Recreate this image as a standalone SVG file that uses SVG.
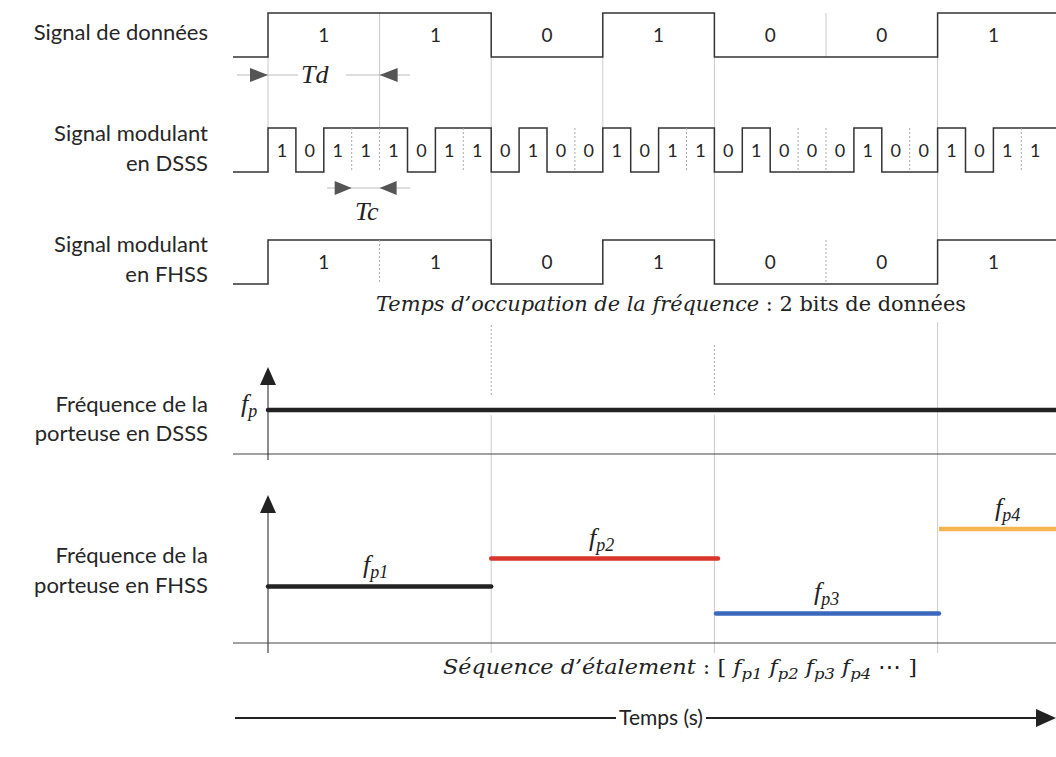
<svg xmlns="http://www.w3.org/2000/svg" width="1056" height="757" viewBox="0 0 1056 757">
<defs>
<style>
.lbl{font-family:Lato,"Open Sans","DejaVu Sans",sans-serif;font-size:22px;fill:#262626;text-anchor:end}
.dig{font-family:Lato,"Open Sans","DejaVu Sans",sans-serif;font-size:19px;fill:#262626;text-anchor:middle}
.chip{font-family:Lato,"Open Sans","DejaVu Sans",sans-serif;font-size:18px;fill:#262626;text-anchor:middle}
.sig{fill:none;stroke:#333;stroke-width:1.5}
.guide{stroke:#cacaca;stroke-width:1;fill:none}
.dot{stroke:#aaa;stroke-width:1;stroke-dasharray:2 2;fill:none}
.ser{font-family:"Liberation Serif","DejaVu Serif",serif;fill:#222}
.dv{font-family:"DejaVu Serif","Liberation Serif",serif;fill:#222}
.it{font-style:italic}
.axis{stroke:#444;stroke-width:1.2;fill:none}
.dim{stroke:#bbb;stroke-width:1.2}
.tri{fill:#555}
</style>
</defs>
<rect width="1056" height="757" fill="#fff"/>

<g id="guides">
<path class="guide" d="M268,57V128 M379.6,57V128 M491.2,57V128 M602.8,57V128 M714.4,57V128 M937.6,57V128"/>
<path class="guide" d="M491.2,172V240 M714.4,172V240 M937.6,172V240"/>
<path class="guide" d="M379.6,13V57 M826,13V57"/>
<path class="dot" d="M491.2,325V395 M714.4,345V395"/>
<path class="guide" d="M937.6,322V400 M491.2,415V653 M714.4,415V653 M937.6,400V653"/>
</g>

<g id="data-signal">
<text class="lbl" x="208" y="40">Signal de données</text>
<path class="sig" d="M233,57H268V13H491.2V57H602.8V13H714.4V57H937.6V13H1056"/>
<g class="dig">
<text x="323.8" y="42">1</text><text x="435.4" y="42">1</text><text x="547" y="42">0</text><text x="658.6" y="42">1</text><text x="770.2" y="42">0</text><text x="881.8" y="42">0</text><text x="993.4" y="42">1</text>
</g>
<line class="dim" x1="237" y1="75" x2="298" y2="75"/>
<line class="dim" x1="346" y1="75" x2="410" y2="75"/>
<polygon class="tri" points="268,75 250,68 250,82"/>
<polygon class="tri" points="379.6,75 397.6,68 397.6,82"/>
<text class="ser it" x="301" y="83" font-size="26">Td</text>
</g>

<g id="dsss-signal">
<text class="lbl" x="208" y="141">Signal modulant</text>
<text class="lbl" x="208" y="171">en DSSS</text>
<path class="sig" d="M233,172H268V128H295.9V172H323.8V128H407.5V172H435.4V128H491.2V172H519.1V128H547V172H602.8V128H630.7V172H658.6V128H714.4V172H742.3V128H770.2V172H853.9V128H881.8V172H937.6V128H965.5V172H993.4V128H1056"/>
<path class="dot" d="M351.7,128V172 M379.6,128V172 M463.3,128V172 M574.9,128V172 M686.5,128V172 M798.1,128V172 M826,128V172 M909.7,128V172 M1021.3,128V172"/>
<g class="chip">
<text x="281.95" y="157">1</text><text x="309.85" y="157">0</text><text x="337.75" y="157">1</text><text x="365.65" y="157">1</text>
<text x="393.55" y="157">1</text><text x="421.45" y="157">0</text><text x="449.35" y="157">1</text><text x="477.25" y="157">1</text>
<text x="505.15" y="157">0</text><text x="533.05" y="157">1</text><text x="560.95" y="157">0</text><text x="588.85" y="157">0</text>
<text x="616.75" y="157">1</text><text x="644.65" y="157">0</text><text x="672.55" y="157">1</text><text x="700.45" y="157">1</text>
<text x="728.35" y="157">0</text><text x="756.25" y="157">1</text><text x="784.15" y="157">0</text><text x="812.05" y="157">0</text>
<text x="839.95" y="157">0</text><text x="867.85" y="157">1</text><text x="895.75" y="157">0</text><text x="923.65" y="157">0</text>
<text x="951.55" y="157">1</text><text x="979.45" y="157">0</text><text x="1007.35" y="157">1</text><text x="1035.25" y="157">1</text>
</g>
<line class="dim" x1="327" y1="188" x2="410" y2="188"/>
<polygon class="tri" points="351.7,188 334.7,181 334.7,195"/>
<polygon class="tri" points="379.6,188 396.6,181 396.6,195"/>
<text class="ser it" x="355" y="220" font-size="26">Tc</text>
</g>

<g id="fhss-signal">
<text class="lbl" x="208" y="252">Signal modulant</text>
<text class="lbl" x="208" y="282">en FHSS</text>
<path class="sig" d="M233,284H268V240H491.2V284H602.8V240H714.4V284H937.6V240H1056"/>
<path class="dot" d="M379.6,240V284 M826,240V284"/>
<g class="dig">
<text x="323.8" y="269">1</text><text x="435.4" y="269">1</text><text x="547" y="269">0</text><text x="658.6" y="269">1</text><text x="770.2" y="269">0</text><text x="881.8" y="269">0</text><text x="993.4" y="269">1</text>
</g>
<text class="dv" x="376" y="311" font-size="20.5" textLength="590" lengthAdjust="spacingAndGlyphs"><tspan class="it">Temps d’occupation de la fréquence</tspan> : 2 bits de données</text>
</g>

<g id="dsss-frequency">
<text class="lbl" x="208" y="412">Fréquence de la</text>
<text class="lbl" x="208" y="441">porteuse en DSSS</text>
<line class="axis" x1="268" y1="382" x2="268" y2="460"/>
<polygon points="268,367 260,385 276,385" fill="#222"/>
<line class="axis" x1="233" y1="454" x2="1056" y2="454"/>
<line x1="268" y1="410" x2="1056" y2="410" stroke="#222" stroke-width="4.5" stroke-linecap="round"/>
<text class="ser it" x="241" y="412" font-size="26">f<tspan font-size="18" dy="5">p</tspan></text>
</g>

<g id="fhss-frequency">
<text class="lbl" x="208" y="563">Fréquence de la</text>
<text class="lbl" x="208" y="593">porteuse en FHSS</text>
<line class="axis" x1="268" y1="510" x2="268" y2="653"/>
<polygon points="268,495 260,513 276,513" fill="#222"/>
<line class="axis" x1="233" y1="643" x2="1056" y2="643"/>
<line x1="268" y1="586.5" x2="491.2" y2="586.5" stroke="#222" stroke-width="4.5" stroke-linecap="round"/>
<line x1="491.2" y1="558.5" x2="718" y2="558.5" stroke="#d9352b" stroke-width="4.5" stroke-linecap="round"/>
<line x1="716" y1="613.5" x2="939" y2="613.5" stroke="#3a68bd" stroke-width="4.5" stroke-linecap="round"/>
<line x1="939" y1="529" x2="1056" y2="529" stroke="#f5b450" stroke-width="4.5"/>
<text class="ser it" x="363" y="573" font-size="26">f<tspan font-size="18" dy="5">p1</tspan></text>
<text class="ser it" x="589" y="546" font-size="26">f<tspan font-size="18" dy="5">p2</tspan></text>
<text class="ser it" x="814" y="600" font-size="26">f<tspan font-size="18" dy="5">p3</tspan></text>
<text class="ser it" x="995" y="516" font-size="26">f<tspan font-size="18" dy="5">p4</tspan></text>
<text class="dv" x="443" y="674" font-size="20.5" textLength="474" lengthAdjust="spacingAndGlyphs"><tspan class="it">Séquence d’étalement</tspan> : [ <tspan class="it">f</tspan><tspan class="it" font-size="15" dy="5">p1</tspan><tspan class="it" dy="-5">  f</tspan><tspan class="it" font-size="15" dy="5">p2</tspan><tspan class="it" dy="-5">  f</tspan><tspan class="it" font-size="15" dy="5">p3</tspan><tspan class="it" dy="-5">  f</tspan><tspan class="it" font-size="15" dy="5">p4</tspan><tspan dy="-5"> ⋯ ]</tspan></text>
</g>

<g id="time-axis">
<line x1="235" y1="718" x2="616" y2="718" stroke="#222" stroke-width="2"/>
<line x1="706" y1="718" x2="1040" y2="718" stroke="#222" stroke-width="2"/>
<polygon points="1056,718 1036,709 1036,727" fill="#222"/>
<text x="661" y="725" font-family="Lato,'Open Sans',sans-serif" font-size="21" fill="#222" text-anchor="middle">Temps (s)</text>
</g>
</svg>
